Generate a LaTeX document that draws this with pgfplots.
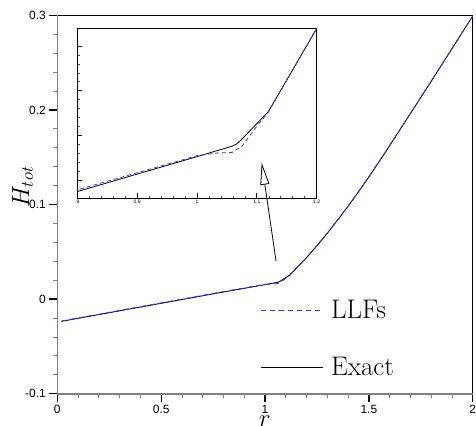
\documentclass[border=0pt]{standalone}
\usepackage{pgfplots}
\pgfplotsset{compat=1.18}
\usepackage{pgfplotstable}
\usepackage{fontspec}
\newfontfamily\arial{Liberation Sans}
\usetikzlibrary{arrows.meta}
\definecolor{llfblue}{RGB}{50,50,255}

\pgfplotstableread{
x y
0.02 -0.0235
0.8 0.0075
0.9 0.0114
1.0 0.0153
1.058 0.0176
1.066 0.0181
1.075 0.0192
1.119 0.0253
1.16 0.0347
1.2 0.0439
1.25 0.0564
1.3 0.0697
1.35 0.0837
1.4 0.0982
1.45 0.1134
1.5 0.1292
1.55 0.1455
1.6 0.1622
1.7 0.1962
1.8 0.2302
1.9 0.2647
2.0 0.2992
}\exact

\pgfplotstableread{
x y
0.02 -0.0232
0.8 0.0079
0.9 0.0117
1.0 0.0155
1.033 0.0161
1.058 0.0162
1.075 0.0176
1.100 0.0221
1.119 0.0252
1.16 0.0347
1.2 0.0439
1.25 0.0564
1.3 0.0697
1.35 0.0837
1.4 0.0982
1.45 0.1134
1.5 0.1292
1.55 0.1455
1.6 0.1622
1.7 0.1962
1.8 0.2302
1.9 0.2647
2.0 0.2992
}\llfs

\begin{document}
\begin{tikzpicture}
\useasboundingbox (0,0) rectangle (476bp,426bp);
\begin{axis}[
  name=main,
  at={(57.3bp,32.3bp)}, anchor=south west,
  scale only axis, width=415.4bp, height=378.4bp,
  xmin=0, xmax=2, ymin=-0.1, ymax=0.3,
  xtick={0,0.5,1,1.5,2}, xticklabels={0,0.5,1,1.5,2},
  ytick={-0.1,0,0.1,0.2,0.3}, yticklabels={-0.1,0,0.1,0.2,0.3},
  minor x tick num=4, minor y tick num=4,
  tick align=outside, tick pos=left,
  major tick length=8bp, minor tick length=4.5bp,
  major tick style={black, line width=1.3bp},
  minor tick style={gray, line width=0.8bp},
  axis line style={black, line width=0.8bp},
  ticklabel style={font=\arial\fontsize{12}{14}\selectfont},
  xlabel={$r$},
  xlabel style={font=\fontsize{26}{30}\selectfont, at={(axis description cs:0.5,-0.086)}, anchor=base},
  ylabel={$H_{tot}$},
  ylabel style={font=\fontsize{25}{30}\selectfont, at={(axis description cs:-0.068,0.547)}, anchor=base},
  clip=false,
  reverse legend,
  legend cell align=left,
  legend image code/.code={\draw[#1] (0bp,0bp) -- (62bp,0bp);},
  legend style={at={(axis cs:0.962,0.006)}, anchor=north west, draw=none, fill=none,
    font=\fontsize{27}{32}\selectfont, row sep=27bp,
    nodes={inner xsep=8bp, inner ysep=5bp}},
]
\addplot[black, line width=0.9bp] table[x=x,y=y] {\exact};
\addlegendentry{Exact}
\addplot[llfblue, line width=0.9bp, dash pattern=on 5bp off 4bp] table[x=x,y=y] {\llfs};
\addlegendentry{LLFs}
\draw[gray, line width=1.6bp] (rel axis cs:0,1) -- (rel axis cs:0,0) -- (rel axis cs:1,0);
\coordinate (atail) at (axis cs:1.053,0.0405);
\coordinate (atip) at (axis cs:0.984,0.1441);
\end{axis}

\begin{axis}[
  at={(77.3bp,227.7bp)}, anchor=south west,
  scale only axis, width=239.4bp, height=170.3bp,
  xmin=0.8, xmax=1.2, ymin=0.006, ymax=0.044,
  xtick={0.8,0.9,1,1.1,1.2}, xticklabels={.8,0.9,1,1.1,1.2},
  ytick={0.01,0.02,0.03,0.04}, yticklabels={},
  scaled y ticks=false, scaled x ticks=false,
  minor x tick num=4, minor y tick num=4,
  tick align=inside, tick pos=left,
  major tick length=5bp, minor tick length=2.7bp,
  major tick style={black, line width=0.8bp},
  minor tick style={black!70, line width=0.6bp},
  axis background/.style={fill=white},
  axis line style={black, line width=0.8bp},
  ticklabel style={font=\arial\fontsize{5}{6}\selectfont},
  xticklabel style={inner sep=1.5bp},
]
\addplot[black, line width=0.8bp] table[x=x,y=y] {\exact};
\addplot[llfblue, line width=0.8bp, dash pattern=on 4bp off 3bp] table[x=x,y=y] {\llfs};
\end{axis}
\draw[black, line width=0.8bp, -{Triangle[fill=white, length=22bp, width=9bp]}] (atail) -- (atip);
\end{tikzpicture}
\end{document}
